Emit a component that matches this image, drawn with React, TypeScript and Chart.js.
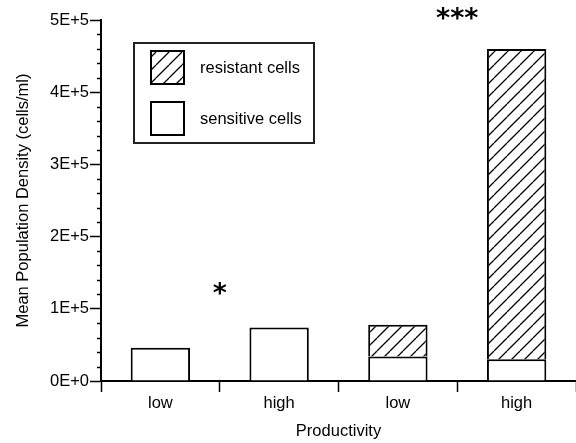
import React, { useEffect, useRef } from 'react';
import { Chart, registerables } from 'chart.js';

Chart.register(...registerables);

const categories = ['low', 'high', 'low', 'high'];
const sensitiveCells = [46000, 74000, 34000, 30000];
const resistantCells = [null, null, 44000, 430000];
const seriesLabels = ['sensitive cells', 'resistant cells'];
const yMax = 500000;
const yMajorStep = 100000;
const yMinorStep = 20000;
const significanceTexts = ['*', '***'];
const significancePairs = [[0, 1], [2, 3]];
const significanceValues = [127000, 508000];
const xTitle = 'Productivity';
const yTitle = 'Mean Population Density (cells/ml)';

const FONT = "'Liberation Sans', Arial, Helvetica, sans-serif";
const FS = 16.5;

function formatSci(v: number): string {
  if (v === 0) return '0E+0';
  const e = Math.floor(Math.log10(v) + 1e-9);
  const m = Math.round(v / Math.pow(10, e));
  return `${m}E+${e}`;
}

function makeHatch(): CanvasPattern | string {
  const s = 13;
  const c = document.createElement('canvas');
  c.width = s;
  c.height = s;
  const g = c.getContext('2d');
  if (!g) return '#fff';
  g.fillStyle = '#fff';
  g.fillRect(0, 0, s, s);
  g.strokeStyle = '#000';
  g.lineWidth = 1.3;
  g.beginPath();
  for (let k = -1; k <= 1; k++) {
    g.moveTo(k * s, s);
    g.lineTo(k * s + s, 0);
  }
  g.stroke();
  const p = g.createPattern(c, 'repeat');
  return p || '#fff';
}

const minorTicksPlugin = {
  id: 'minorTicks',
  afterDraw(chart: any) {
    const y = chart.scales.y;
    const ctx = chart.ctx;
    const left = chart.chartArea.left;
    ctx.save();
    ctx.strokeStyle = '#000';
    ctx.lineWidth = 1.5;
    y.ticks.forEach((t: any) => {
      if (t.value % yMajorStep !== 0) {
        const py = Math.round(y.getPixelForValue(t.value)) + 0.5;
        ctx.beginPath();
        ctx.moveTo(left - 4, py);
        ctx.lineTo(left, py);
        ctx.stroke();
      }
    });
    ctx.restore();
  },
};

const significancePlugin = {
  id: 'significance',
  afterDraw(chart: any) {
    const xs = chart.scales.x;
    const ys = chart.scales.y;
    const ctx = chart.ctx;
    ctx.save();
    ctx.fillStyle = '#000';
    ctx.font = `bold 27px 'DejaVu Sans', ${FONT}`;
    ctx.textAlign = 'center';
    ctx.textBaseline = 'middle';
    significanceTexts.forEach((txt, i) => {
      const [a, b] = significancePairs[i];
      const px = (xs.getPixelForValue(a) + xs.getPixelForValue(b)) / 2;
      const py = ys.getPixelForValue(significanceValues[i]);
      ctx.fillText(txt, px, py + 6);
    });
    ctx.restore();
  },
};

const boxLegendPlugin = {
  id: 'boxLegend',
  afterDraw(chart: any) {
    const ctx = chart.ctx;
    const ds = chart.data.datasets.slice().reverse();
    ctx.save();
    ctx.strokeStyle = '#222';
    ctx.lineWidth = 2;
    ctx.strokeRect(134, 43, 180, 100);
    ds.forEach((d: any, i: number) => {
      const sy = 51 + i * 51;
      ctx.fillStyle = d.backgroundColor;
      ctx.fillRect(151, sy, 33, 33);
      ctx.strokeStyle = '#000';
      ctx.lineWidth = 2;
      ctx.strokeRect(151, sy, 33, 33);
      ctx.fillStyle = '#000';
      ctx.font = `${FS}px ${FONT}`;
      ctx.textAlign = 'left';
      ctx.textBaseline = 'middle';
      ctx.fillText(d.label, 200, sy + 17);
    });
    ctx.restore();
  },
};

export default function App() {
  const ref = useRef<HTMLCanvasElement | null>(null);

  useEffect(() => {
    const canvas = ref.current;
    if (!canvas) return;
    const hatch = makeHatch();
    const chart = new Chart(canvas, {
      type: 'bar',
      data: {
        labels: categories,
        datasets: [
          {
            label: seriesLabels[0],
            data: sensitiveCells,
            backgroundColor: '#ffffff',
            borderColor: '#000',
            borderWidth: 2,
          },
          {
            label: seriesLabels[1],
            data: resistantCells as any,
            backgroundColor: hatch as any,
            borderColor: '#000',
            borderWidth: 2,
          },
        ],
      },
      options: {
        animation: false,
        responsive: false,
        maintainAspectRatio: false,
        layout: { padding: { top: 20, left: 0, right: 0, bottom: 0 } },
        plugins: {
          legend: { display: false },
          tooltip: { enabled: false },
        },
        datasets: {
          bar: { categoryPercentage: 1, barPercentage: 0.5 },
        },
        scales: {
          x: {
            stacked: true,
            offset: true,
            afterFit: (s: any) => {
              s.height = 62;
            },
            grid: {
              offset: true,
              drawOnChartArea: false,
              drawTicks: true,
              tickLength: 11,
              tickWidth: 1.5,
              tickColor: '#000',
            },
            border: { display: true, color: '#000', width: 2 },
            ticks: {
              color: '#000',
              font: { family: FONT, size: FS },
              padding: 2,
              maxRotation: 0,
            },
            title: {
              display: true,
              text: xTitle,
              color: '#000',
              font: { family: FONT, size: FS },
              padding: { top: 0, bottom: 2 },
            },
          },
          y: {
            stacked: true,
            min: 0,
            max: yMax,
            afterFit: (s: any) => {
              s.width = 101;
            },
            grid: {
              drawOnChartArea: false,
              drawTicks: true,
              tickLength: 11,
              tickWidth: 1.5,
              tickColor: (c: any) =>
                c.tick && c.tick.value % yMajorStep === 0 ? '#000' : 'rgba(0,0,0,0)',
            },
            border: { display: true, color: '#000', width: 2 },
            ticks: {
              stepSize: yMinorStep,
              autoSkip: false,
              color: '#000',
              font: { family: FONT, size: FS },
              padding: 1,
              callback: (v: any) => (Number(v) % yMajorStep === 0 ? formatSci(Number(v)) : ''),
            },
            title: {
              display: true,
              text: yTitle,
              color: '#000',
              font: { family: FONT, size: FS },
              padding: { top: 14, bottom: 0 },
            },
          },
        },
      },
      plugins: [minorTicksPlugin, significancePlugin, boxLegendPlugin],
    });
    return () => chart.destroy();
  }, []);

  return (
    <div style={{ position: 'fixed', left: 0, top: 0, width: 576, height: 443, background: '#fff' }}>
      <canvas ref={ref} width={576} height={443} style={{ display: 'block' }} />
    </div>
  );
}
